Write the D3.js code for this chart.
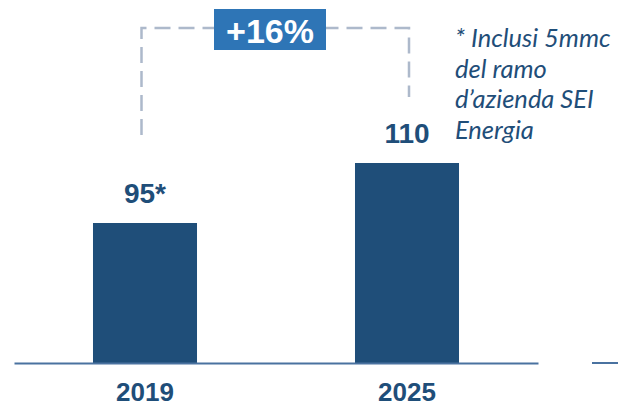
<!DOCTYPE html>
<html>
<head>
<meta charset="utf-8">
<script src="https://cdn.jsdelivr.net/npm/d3@7"></script>
<style>
  html, body { margin: 0; padding: 0; background: #fff; }
  svg { display: block; }
</style>
</head>
<body>
<svg id="chart" width="618" height="405"></svg>
<script>
// ── Data ──────────────────────────────────────────────────────────────────────
const years      = ['2019', '2025'];
const values     = [95, 110];
const valueLabels = ['95*', '110'];
const growthLabel = '+16%';
const footnote   = ['* Inclusi 5mmc', 'del ramo', 'd\u2019azienda SEI', 'Energia'];

// ── Colours ───────────────────────────────────────────────────────────────────
const barColor   = '#1f4e79';
const axisColor  = '#4a72a0';
const dashColor  = '#adb9cb';
const boxColor   = '#2e75b6';

const svg = d3.select('#chart');

// ── Scales ────────────────────────────────────────────────────────────────────
const baseY = 363;
const x = d3.scaleBand()
  .domain(years)
  .range([14, 538])
  .paddingInner(0.603)
  .paddingOuter(0.3015);

// axis in the original does not start at zero
const y = d3.scaleLinear()
  .domain([60, 110])
  .range([baseY, 163]);

// ── Bars ──────────────────────────────────────────────────────────────────────
svg.selectAll('.bar')
  .data(years)
  .join('rect')
  .attr('class', 'bar')
  .attr('x', d => x(d))
  .attr('width', x.bandwidth())
  .attr('y', (d, i) => y(values[i]))
  .attr('height', (d, i) => baseY - y(values[i]))
  .attr('fill', barColor);

// ── Value labels ──────────────────────────────────────────────────────────────
svg.selectAll('.val')
  .data(years)
  .join('text')
  .attr('class', 'val')
  .attr('x', d => x(d) + x.bandwidth() / 2)
  .attr('y', (d, i) => y(values[i]) - 20)
  .attr('text-anchor', 'middle')
  .attr('font-family', 'Liberation Sans, Arial, sans-serif')
  .attr('font-weight', 'bold')
  .attr('font-size', '28px')
  .attr('fill', barColor)
  .text((d, i) => valueLabels[i]);

// ── X axis ────────────────────────────────────────────────────────────────────
const xAxis = svg.append('g')
  .attr('transform', `translate(0,${baseY})`)
  .call(d3.axisBottom(x).tickSize(0).tickSizeOuter(0).tickPadding(19.5));

xAxis.select('.domain')
  .attr('stroke', axisColor)
  .attr('stroke-width', 2);

xAxis.selectAll('text')
  .attr('font-family', '"Liberation Sans Narrow", "Arial Narrow", sans-serif')
  .attr('font-weight', 'bold')
  .attr('font-size', '26px')
  .attr('fill', barColor);

// stray axis piece on the right edge (cropped from the slide)
svg.append('line')
  .attr('x1', 592).attr('x2', 618)
  .attr('y1', baseY).attr('y2', baseY)
  .attr('stroke', axisColor)
  .attr('stroke-width', 2);

// ── Growth connector ──────────────────────────────────────────────────────────
const cx1 = x(years[0]) + x.bandwidth() / 2 - 3.5;
const cx2 = x(years[1]) + x.bandwidth() / 2 + 2;
const topY = 28;

svg.append('path')
  .attr('d', `M${cx1},${y(values[0]) - 88}V${topY}H${cx2}V${y(values[1]) - 66}`)
  .attr('fill', 'none')
  .attr('stroke', dashColor)
  .attr('stroke-width', 2.5)
  .attr('stroke-dasharray', '16,8');

const boxW = 112, boxH = 41;
const boxCx = 270;
svg.append('rect')
  .attr('x', boxCx - boxW / 2)
  .attr('y', 9)
  .attr('width', boxW)
  .attr('height', boxH)
  .attr('fill', boxColor);

svg.append('text')
  .attr('x', boxCx)
  .attr('y', 43)
  .attr('text-anchor', 'middle')
  .attr('font-family', '"Liberation Sans Narrow", "Arial Narrow", sans-serif')
  .attr('font-weight', 'bold')
  .attr('font-size', '34px')
  .attr('fill', '#fff')
  .text(growthLabel);

// ── Footnote ──────────────────────────────────────────────────────────────────
svg.append('text')
  .attr('font-family', 'Lato, "Open Sans", sans-serif')
  .attr('font-style', 'italic')
  .attr('font-size', '25.5px')
  .attr('fill', barColor)
  .selectAll('tspan')
  .data(footnote)
  .join('tspan')
  .attr('x', 455)
  .attr('y', (d, i) => 47 + i * 30.5)
  .text(d => d);
</script>
</body>
</html>
